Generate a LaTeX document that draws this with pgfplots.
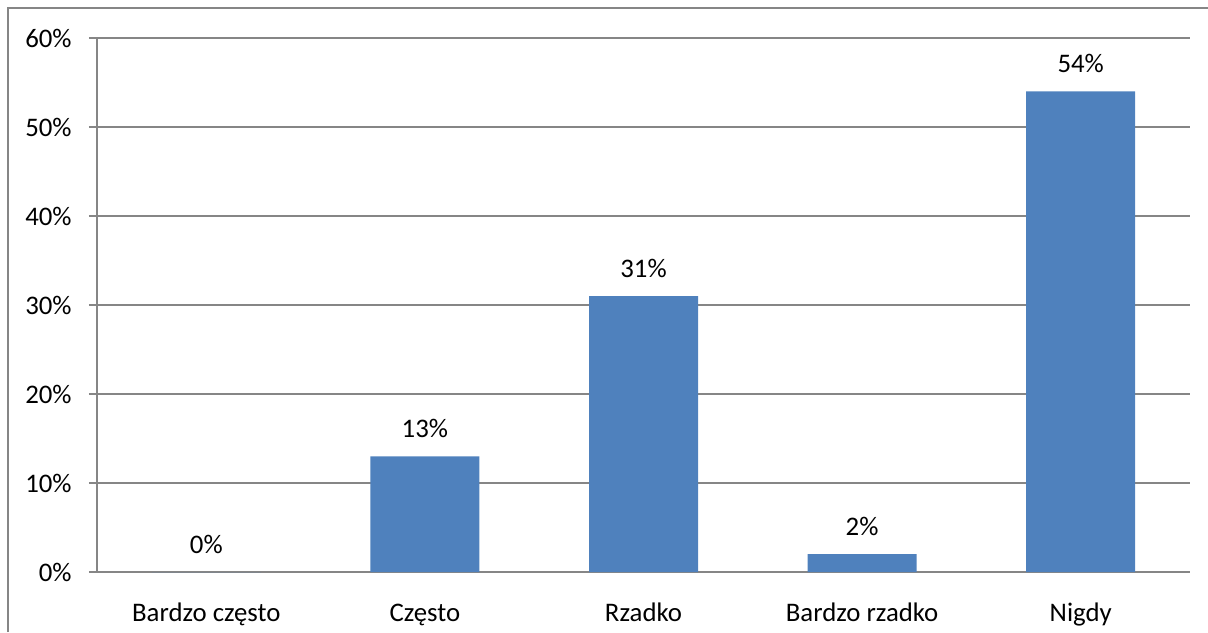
\documentclass[border=0pt]{standalone}
\usepackage{fontspec}
\setmainfont{Carlito}
\usepackage{pgfplots}
\pgfplotsset{compat=1.18}
\definecolor{barblue}{HTML}{4F81BD}
\definecolor{gridgray}{HTML}{868686}
\begin{document}
\begin{tikzpicture}[font=\fontsize{13.4pt}{15pt}\selectfont]
\useasboundingbox (-48.5pt,-30pt) rectangle (555.5pt,286pt);
\draw[gridgray, line width=0.6pt] (-44.5pt,-30pt) -- (-44.5pt,282pt) -- (555.5pt,282pt);
\begin{axis}[
  at={(0pt,0pt)}, anchor=south west,
  scale only axis,
  width=546.5pt, height=267pt,
  xmin=-0.5, xmax=4.5,
  ymin=0, ymax=60,
  ytick={0,10,...,60},
  xtick={0,1,2,3,4},
  xticklabels={Bardzo często, Często, Rzadko, Bardzo rzadko, Nigdy},
  major x tick style={draw=none},
  extra x ticks={-0.5,0.5,1.5,2.5,3.5,4.5},
  extra x tick labels={},
  extra x tick style={major tick length=4pt, tick style={gridgray, line width=0.6pt}, tick align=outside, grid=none},
  axis x line*=bottom,
  axis y line*=left,
  axis line style={gridgray, line width=0.6pt, -},
  ymajorgrids,
  grid style={gridgray, line width=0.6pt},
  tick align=outside,
  major tick length=4pt,
  y tick style={gridgray, line width=0.6pt},
  /pgf/number format/assume math mode=true,
  yticklabel={\pgfmathprintnumber{\tick}\%},
  yticklabel style={anchor=east, inner sep=0pt, xshift=-8.5pt},
  xticklabel style={anchor=base, inner sep=0pt, yshift=-20.5pt},
  ybar, bar width=54.5pt,
  nodes near coords={\pgfmathprintnumber{\pgfplotspointmeta}\%},
  nodes near coords style={anchor=base, inner sep=0pt, yshift=9.5pt, black},
  clip=false,
]
\addplot[fill=barblue, draw=none] coordinates {(0,0) (1,13) (2,31) (3,2) (4,54)};
\end{axis}
\end{tikzpicture}
\end{document}
